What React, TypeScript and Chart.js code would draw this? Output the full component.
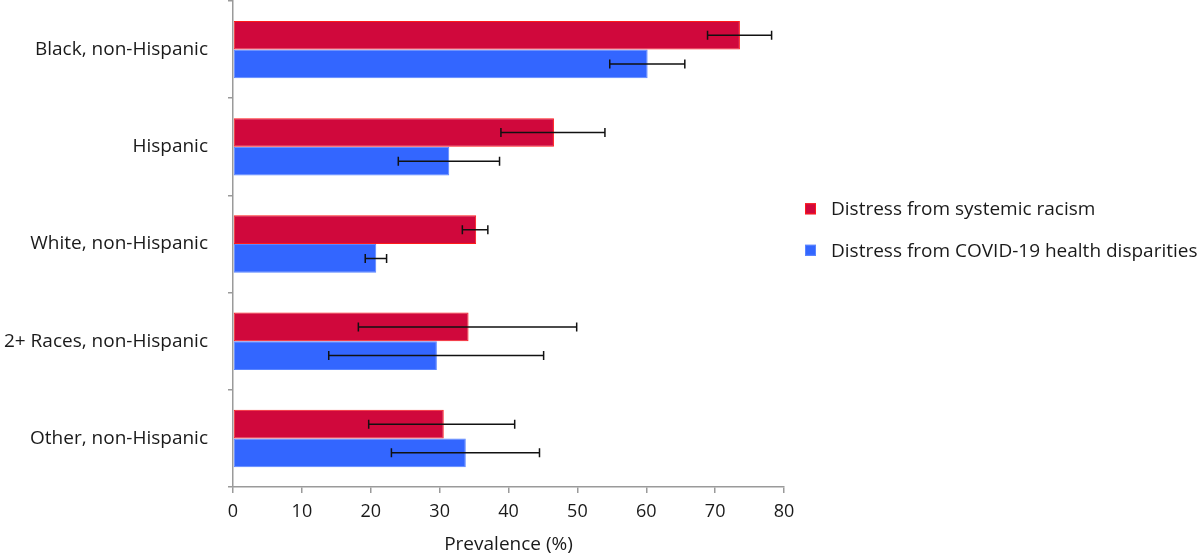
import React, { useEffect, useRef } from "react";
import { Chart, registerables } from "chart.js";

Chart.register(...registerables);

const categories = [
  "Black, non-Hispanic",
  "Hispanic",
  "White, non-Hispanic",
  "2+ Races, non-Hispanic",
  "Other, non-Hispanic",
];
const seriesNames = [
  "Distress from systemic racism",
  "Distress from COVID-19 health disparities",
];
const racismValues = [73.6, 46.6, 35.3, 34.2, 30.6];
const racismLow = [68.9, 38.9, 33.3, 18.2, 19.7];
const racismHigh = [78.2, 54.0, 37.0, 49.9, 40.9];
const covidValues = [60.2, 31.4, 20.8, 29.6, 33.8];
const covidLow = [54.7, 24.0, 19.2, 13.9, 23.0];
const covidHigh = [65.6, 38.7, 22.3, 45.1, 44.5];
const xMin = 0;
const xMax = 80;
const xStep = 10;

const FONT = "'Open Sans', 'Noto Sans', sans-serif";
const TEXT = "#1a1a1a";
const AXIS = "#9a9a9a";

const errorBars = [
  [racismLow, racismHigh],
  [covidLow, covidHigh],
];

const errorBarPlugin = {
  id: "errorBars",
  afterDatasetsDraw(chart: any) {
    const ctx = chart.ctx;
    const xs = chart.scales.x;
    ctx.save();
    ctx.strokeStyle = "#111111";
    ctx.lineWidth = 1.5;
    chart.data.datasets.forEach((_ds: any, i: number) => {
      const meta = chart.getDatasetMeta(i);
      const [lo, hi] = errorBars[i];
      meta.data.forEach((el: any, j: number) => {
        const y = el.y;
        const x1 = xs.getPixelForValue(lo[j]);
        const x2 = xs.getPixelForValue(hi[j]);
        ctx.beginPath();
        ctx.moveTo(x1, y);
        ctx.lineTo(x2, y);
        ctx.moveTo(x1, y - 4.5);
        ctx.lineTo(x1, y + 4.5);
        ctx.moveTo(x2, y - 4.5);
        ctx.lineTo(x2, y + 4.5);
        ctx.stroke();
      });
    });
    ctx.restore();
  },
};

const legendPlugin = {
  id: "sideLegend",
  afterDraw(chart: any) {
    const ctx = chart.ctx;
    const area = chart.chartArea;
    const left = area.right + 21;
    const centerY = (area.top + area.bottom) / 2 - 14.5;
    const gap = 41.5;
    ctx.save();
    ctx.font = `19px ${FONT}`;
    ctx.textBaseline = "middle";
    ctx.textAlign = "left";
    chart.data.datasets.forEach((ds: any, i: number) => {
      const cy = centerY + (i - 0.5) * gap;
      ctx.fillStyle = ds.backgroundColor;
      ctx.fillRect(left, cy - 5.5, 11, 11);
      ctx.strokeStyle = ds.borderColor;
      ctx.lineWidth = 1;
      ctx.strokeRect(left + 0.5, cy - 5, 10, 10);
      ctx.fillStyle = TEXT;
      ctx.fillText(ds.label, left + 26, cy + 1);
    });
    ctx.restore();
  },
};

export default function App() {
  const canvasRef = useRef<HTMLCanvasElement>(null);

  useEffect(() => {
    document.body.style.margin = "0";
    const canvas = canvasRef.current;
    if (!canvas) return;
    const chart = new Chart(canvas, {
      type: "bar",
      data: {
        labels: categories,
        datasets: [
          {
            label: seriesNames[0],
            data: racismValues,
            backgroundColor: "#d0083c",
            borderColor: "#ff1a1a",
            borderWidth: 1,
            borderSkipped: false,
          },
          {
            label: seriesNames[1],
            data: covidValues,
            backgroundColor: "#3366ff",
            borderColor: "#5a85ff",
            borderWidth: 1,
            borderSkipped: false,
          },
        ],
      },
      options: {
        indexAxis: "y",
        animation: false,
        responsive: true,
        maintainAspectRatio: false,
        datasets: {
          bar: { categoryPercentage: 0.59, barPercentage: 1.0 },
        },
        layout: { padding: { left: 0, right: 416, top: 1, bottom: 0 } },
        plugins: {
          legend: { display: false },
          tooltip: { enabled: false },
        },
        scales: {
          x: {
            min: xMin,
            max: xMax,
            ticks: {
              stepSize: xStep,
              color: TEXT,
              font: { family: FONT, size: 18 },
              padding: 8,
            },
            grid: {
              drawOnChartArea: false,
              color: AXIS,
              tickLength: 6,
              lineWidth: 1.5,
            },
            border: { color: AXIS, width: 1.5 },
            title: {
              display: true,
              text: "Prevalence (%)",
              color: TEXT,
              font: { family: FONT, size: 19 },
              padding: { top: 2.5, bottom: 0 },
            },
            afterFit(scale: any) {
              scale.paddingLeft = 0;
              scale.paddingRight = 0;
            },
          },
          y: {
            ticks: {
              color: TEXT,
              font: { family: FONT, size: 19 },
              padding: 20,
            },
            grid: {
              drawOnChartArea: false,
              color: AXIS,
              tickLength: 5,
              lineWidth: 1.5,
              offset: true,
            },
            border: { color: AXIS, width: 1.5 },
            afterFit(scale: any) {
              scale.width = 233;
              scale.paddingTop = 0;
              scale.paddingBottom = 0;
            },
          },
        },
      },
      plugins: [errorBarPlugin, legendPlugin],
    });
    return () => chart.destroy();
  }, []);

  return (
    <div style={{ width: 1200, height: 556, position: "relative" }}>
      <canvas ref={canvasRef} />
    </div>
  );
}
